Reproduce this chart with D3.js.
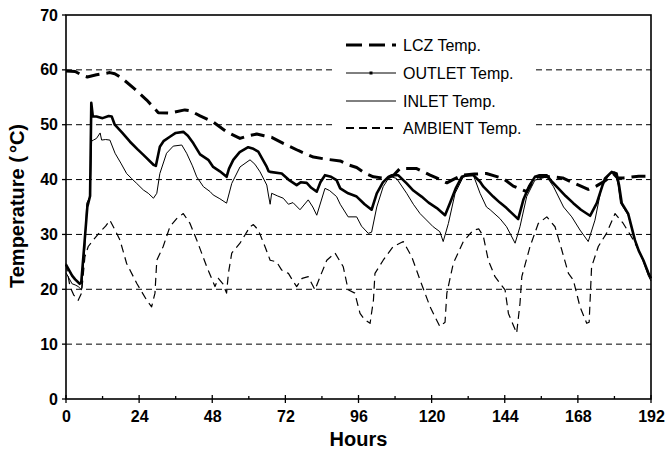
<!DOCTYPE html>
<html>
<head>
<meta charset="utf-8">
<script src="https://cdn.jsdelivr.net/npm/d3@7/dist/d3.min.js"></script>
<style>
  html, body { margin: 0; padding: 0; background: #fff; }
  svg { display: block; }
  text { font-family: "Liberation Sans", Arial, Helvetica, sans-serif; fill: #000; }
</style>
</head>
<body>
<svg id="chart" width="667" height="453"></svg>
<script>
// ---------- DATA ----------
const xTicks = [0, 24, 48, 72, 96, 120, 144, 168, 192];
const xMinorTicks = [12, 36, 60, 84, 108, 132, 156, 180];
const yTicks = [0, 10, 20, 30, 40, 50, 60, 70];
const gridValues = [10, 20, 30, 40, 50, 60];

const seriesNames = ["LCZ Temp.", "OUTLET Temp.", "INLET Temp.", "AMBIENT Temp."];

const lczHours = [0, 3, 5.7, 7, 10, 14.4, 16, 18.3, 22.6, 26.5, 30.3, 34.1, 39, 41, 44, 48.3, 52.7, 57.1, 60, 62.6, 65, 67.5, 71.3, 76.2, 81.2, 85.6, 90, 92.6, 95.4, 98, 100.9, 105.2, 107.5, 109.6, 115.1, 119.5, 122, 125, 127, 130, 134, 138, 143.5, 146.8, 151.2, 153, 155, 160, 163, 166.5, 171.4, 174, 177, 179.6, 181, 183, 188, 192];
const lczTemp  = [59.8, 59.7, 58.9, 58.7, 59.1, 59.5, 59.3, 58.5, 56.5, 54.5, 52.2, 52.1, 52.7, 52.5, 51.6, 50.5, 48.7, 47.5, 48, 48.3, 48, 47.7, 46.6, 45.3, 44.1, 43.7, 43.4, 42.7, 42.2, 41.2, 40.5, 40.2, 40.8, 42, 42, 40.8, 40.2, 39.4, 40, 40.8, 41, 41.1, 40.2, 38.8, 37.8, 39.5, 40.6, 40.5, 40.3, 39.4, 38.2, 38.8, 39.8, 41.1, 40.3, 40.3, 40.6, 40.6];

const outletHours = [0, 1, 2, 3, 4.5, 5, 6, 7, 7.9, 8.3, 8.8, 10, 12, 14, 15, 16, 18.5, 21, 23.5, 25.4, 28.7, 29.5, 30.8, 32, 34.1, 36, 38.5, 40, 41.8, 44, 46.7, 48.3, 50.5, 52.7, 53.5, 54.9, 57, 59.8, 61.5, 63.1, 65.9, 66.5, 67, 70.8, 73, 75.7, 77, 79, 80.5, 82.3, 83.5, 85, 87, 88.8, 90, 92.6, 95.4, 98, 100.3, 102, 104, 105.8, 107, 109, 111.8, 114, 116.7, 119, 121.7, 124.4, 126, 128, 129.9, 131.5, 133.7, 135.9, 137, 140.2, 142.4, 144.6, 146.5, 148.4, 150.1, 152, 153.9, 155.5, 157.8, 159.5, 161.6, 164, 166.5, 169, 172, 174.2, 176, 176.9, 179.1, 180.7, 181.5, 182.4, 184.5, 186.7, 188, 189.5, 191.1, 192];
const outletTemp  = [24.5, 23.5, 22.5, 21.8, 21.0, 21.2, 28, 35, 37, 54, 51.5, 51.5, 51.2, 51.6, 51.5, 50, 48.5, 46.9, 45.5, 44.5, 42.7, 42.5, 46, 47, 47.8, 48.5, 48.7, 48, 46.6, 44.6, 43.6, 42.3, 41.5, 40.5, 42, 43.6, 45, 45.9, 45.6, 45.1, 42.3, 41.5, 41.4, 41.1, 40, 39, 39.5, 39.4, 38.5, 37.8, 39.5, 40.8, 40.5, 39.9, 38.4, 37.5, 36.9, 35.5, 34.5, 37.5, 39.5, 40.5, 40.8, 40.8, 39.3, 38, 36.9, 35.8, 34.8, 33.5, 35.7, 38.5, 40.5, 40.8, 40.8, 39.6, 38.7, 36.9, 35.8, 34.8, 33.8, 32.8, 36.3, 38.8, 40.5, 40.8, 40.8, 39.6, 38.4, 37, 35.7, 34.5, 33.4, 35.7, 38.8, 40.2, 41.4, 41.1, 39, 35.7, 33.8, 29, 27, 25.3, 23, 22];

const inletHours = [0, 1, 2, 3, 4, 5.1, 6.2, 6.8, 7.9, 8.4, 9, 10, 11.2, 11.7, 13, 14.4, 16.1, 18, 19.9, 21.5, 23.2, 25.4, 27, 28.7, 29.8, 30.8, 33, 35.2, 38, 39.6, 41.5, 42.9, 45.1, 47.3, 48.3, 50.5, 52.7, 54.4, 57.1, 60.4, 62, 63.7, 65.9, 66.5, 67, 67.5, 69.5, 71.3, 73, 74.5, 76.8, 79.5, 81, 82.3, 85, 86.5, 88.8, 90, 92.6, 95.4, 97, 99.2, 100.3, 102, 104.1, 106.3, 108.5, 111.8, 114, 116.2, 118, 120.5, 122.7, 123.8, 125.5, 127.7, 130.4, 133.7, 135.9, 138, 139.2, 142.4, 144.6, 147.4, 149, 151.2, 153.9, 157.8, 160, 163.3, 166, 168.7, 171.4, 173.6, 175.8, 178.5, 180.2, 181.2, 182, 184.5, 186.7, 189.5, 191.1, 192];
const inletTemp  = [23, 22, 21, 20.8, 20.5, 19.9, 27.8, 35.7, 36.9, 47, 47.2, 47.5, 48.5, 47.2, 47.3, 47.2, 44.8, 43, 41.1, 40.2, 39.3, 38.1, 37.5, 36.6, 37.5, 41.1, 44.8, 46.1, 46.3, 44.8, 42.5, 40.5, 38.7, 37.8, 37.2, 36.5, 35.7, 39.3, 42.3, 43.6, 42.8, 41.4, 39, 37, 35.5, 37.5, 37, 36.6, 35.5, 35.8, 34.5, 36.3, 35, 33.5, 38.4, 38, 36.9, 35.5, 33.2, 33.2, 31.5, 30.2, 30.4, 35, 38.7, 40.6, 40.2, 37.5, 35.5, 33.8, 32.8, 31.4, 30.5, 28.7, 32, 37.5, 40.5, 40.8, 37.5, 35, 34.5, 32.9, 31.4, 28.4, 31.4, 36.9, 39.9, 40.5, 38.7, 35, 33.2, 30.8, 28.7, 32.6, 38.7, 41.1, 41.4, 39, 35.7, 33.5, 29, 25, 22.5, 21.5];

const ambientHours = [0, 1.3, 2.5, 4, 5.1, 6.2, 7.3, 9, 11.2, 13, 14.4, 16.1, 17.7, 19.9, 23.2, 26.5, 28.1, 29.2, 29.8, 31.9, 34.1, 36.5, 38.5, 40.7, 42.9, 46.2, 48.9, 50, 51.5, 52.7, 53.3, 54.4, 57.1, 60.4, 61.5, 63.1, 65.3, 67, 69.1, 70.8, 73, 74.5, 75.7, 77.5, 79.5, 81.7, 83.4, 85.6, 88.3, 91, 92.6, 94.8, 96.5, 98, 99.8, 100.9, 101.4, 104.1, 107.4, 110.7, 113.5, 116.2, 119.5, 122.7, 124.4, 125, 127.1, 130.4, 133.7, 135.5, 137, 138.6, 140.8, 144.1, 145.2, 147.9, 149, 149.6, 152.3, 155, 157.8, 160.5, 162.7, 164.9, 166.5, 168.7, 170.9, 171.7, 172.5, 174.7, 177.4, 180.2, 182.9, 186.2, 189.5, 191.7, 192];
const ambientTemp  = [24.7, 20.5, 19, 18, 19.3, 25.9, 27.8, 29, 30.5, 31.5, 32.6, 30.8, 29, 24.7, 21.1, 18, 16.8, 19.3, 25.3, 27.8, 31.4, 33, 33.8, 32, 29, 24.1, 20.5, 22, 21, 19.3, 22.9, 26.6, 28.4, 31.4, 31.8, 30.8, 27.8, 25.3, 25, 23.5, 22.9, 21.5, 20.5, 22, 22.3, 19.9, 22.3, 25.3, 26.6, 24.1, 19.9, 19.3, 15.6, 14.5, 13.8, 18, 22.9, 25.3, 27.8, 28.7, 25.9, 21.7, 16.8, 13.2, 14, 19.3, 24.7, 28.7, 30.8, 31, 29.6, 25.3, 22.3, 19.9, 15.6, 12, 17.4, 22.3, 27.8, 32, 33.2, 31.4, 27.2, 22.9, 21.7, 16.8, 13.8, 14, 24.1, 27.8, 30.2, 33.8, 32, 29, 25.3, 22.3, 22];

// ---------- LAYOUT ----------
const svg = d3.select("#chart");
const X0 = 66, X1 = 651, Y0 = 399, Y1 = 15;
const x = d3.scaleLinear().domain([0, 192]).range([X0, X1]);
const y = d3.scaleLinear().domain([0, 70]).range([Y0, Y1]);

// gridlines
svg.append("g").selectAll("line").data(gridValues).join("line")
  .attr("x1", X0).attr("x2", X1)
  .attr("y1", d => y(d)).attr("y2", d => y(d))
  .attr("stroke", "#000").attr("stroke-width", 1)
  .attr("stroke-dasharray", "6,4");

// legend background
svg.append("rect").attr("x", 333).attr("y", 30).attr("width", 202).attr("height", 108).attr("fill", "#fff");

const zip = (hs, ts) => hs.map((h, i) => [h, ts[i]]);
const line = d3.line().x(d => x(d[0])).y(d => y(d[1]));

const styles = [
  { data: zip(lczHours, lczTemp), w: 3, dash: "14,7" },
  { data: zip(outletHours, outletTemp), w: 2.6, dash: null },
  { data: zip(inletHours, inletTemp), w: 1, dash: null },
  { data: zip(ambientHours, ambientTemp), w: 1.2, dash: "8,5" }
];

const plotG = svg.append("g");
[3, 2, 1, 0].forEach(i => {
  const s = styles[i];
  plotG.append("path").datum(s.data)
    .attr("d", line)
    .attr("fill", "none").attr("stroke", "#000")
    .attr("stroke-width", s.w)
    .attr("stroke-linejoin", "round")
    .attr("stroke-dasharray", s.dash);
});

// axes using d3 axis generators
const xAxis = d3.axisBottom(x).tickValues(xTicks).tickSize(0).tickPadding(12).tickFormat(d3.format("d"));
const gx = svg.append("g").attr("transform", `translate(0,${Y0})`).call(xAxis);
gx.select(".domain").remove();
gx.selectAll("text").attr("font-size", 16).attr("font-weight", "bold").attr("font-family", "Liberation Sans, Arial, sans-serif");

const yAxis = d3.axisLeft(y).tickValues(yTicks).tickSize(0).tickPadding(8).tickFormat(d3.format("d"));
const gy = svg.append("g").attr("transform", `translate(${X0},0)`).call(yAxis);
gy.select(".domain").remove();
gy.selectAll("text").attr("font-size", 16).attr("font-weight", "bold").attr("font-family", "Liberation Sans, Arial, sans-serif");

// tick marks
svg.append("g").selectAll("line").data(xTicks).join("line")
  .attr("x1", d => x(d)).attr("x2", d => x(d))
  .attr("y1", Y0 - 4).attr("y2", Y0 + 4)
  .attr("stroke", "#000").attr("stroke-width", 1.3);
svg.append("g").selectAll("line").data(xMinorTicks).join("line")
  .attr("x1", d => x(d)).attr("x2", d => x(d))
  .attr("y1", Y0 - 3).attr("y2", Y0)
  .attr("stroke", "#000").attr("stroke-width", 1.3);
svg.append("g").selectAll("line").data(yTicks).join("line")
  .attr("x1", X0 - 4).attr("x2", X0)
  .attr("y1", d => y(d)).attr("y2", d => y(d))
  .attr("stroke", "#000").attr("stroke-width", 1.3);

// frame
svg.append("rect").attr("x", X0).attr("y", Y1).attr("width", X1 - X0).attr("height", Y0 - Y1)
  .attr("fill", "none").attr("stroke", "#000").attr("stroke-width", 1.6);

// axis titles
svg.append("text").attr("x", (X0 + X1) / 2).attr("y", 446)
  .attr("text-anchor", "middle").attr("font-size", 20).attr("font-weight", "bold").text("Hours");
const yt = svg.append("text").attr("transform", `translate(24,${(Y0 + Y1) / 2 - 1}) rotate(-90)`)
  .attr("text-anchor", "middle").attr("font-size", 20).attr("font-weight", "bold");
yt.append("tspan").text("Temperature (");
yt.append("tspan").attr("dx", 3).text("°C)");

// legend
const legRows = [45, 73, 101, 128];
const lg = svg.append("g");
seriesNames.forEach((name, i) => {
  const yy = legRows[i];
  if (i === 0) {
    lg.append("line").attr("x1", 346).attr("x2", 396).attr("y1", yy).attr("y2", yy)
      .attr("stroke", "#000").attr("stroke-width", 3).attr("stroke-dasharray", "16,7");
  } else if (i === 1) {
    lg.append("line").attr("x1", 346).attr("x2", 396).attr("y1", yy).attr("y2", yy)
      .attr("stroke", "#000").attr("stroke-width", 1);
    lg.append("rect").attr("x", 369.5).attr("y", yy - 1.5).attr("width", 3).attr("height", 3).attr("fill", "#000");
  } else if (i === 2) {
    lg.append("line").attr("x1", 346).attr("x2", 396).attr("y1", yy).attr("y2", yy)
      .attr("stroke", "#000").attr("stroke-width", 1);
  } else {
    lg.append("line").attr("x1", 346).attr("x2", 396).attr("y1", yy).attr("y2", yy)
      .attr("stroke", "#000").attr("stroke-width", 2).attr("stroke-dasharray", "8,5");
  }
  lg.append("text").attr("x", 403).attr("y", yy).attr("dy", "0.36em")
    .attr("font-size", 16).text(name);
});
</script>
</body>
</html>
